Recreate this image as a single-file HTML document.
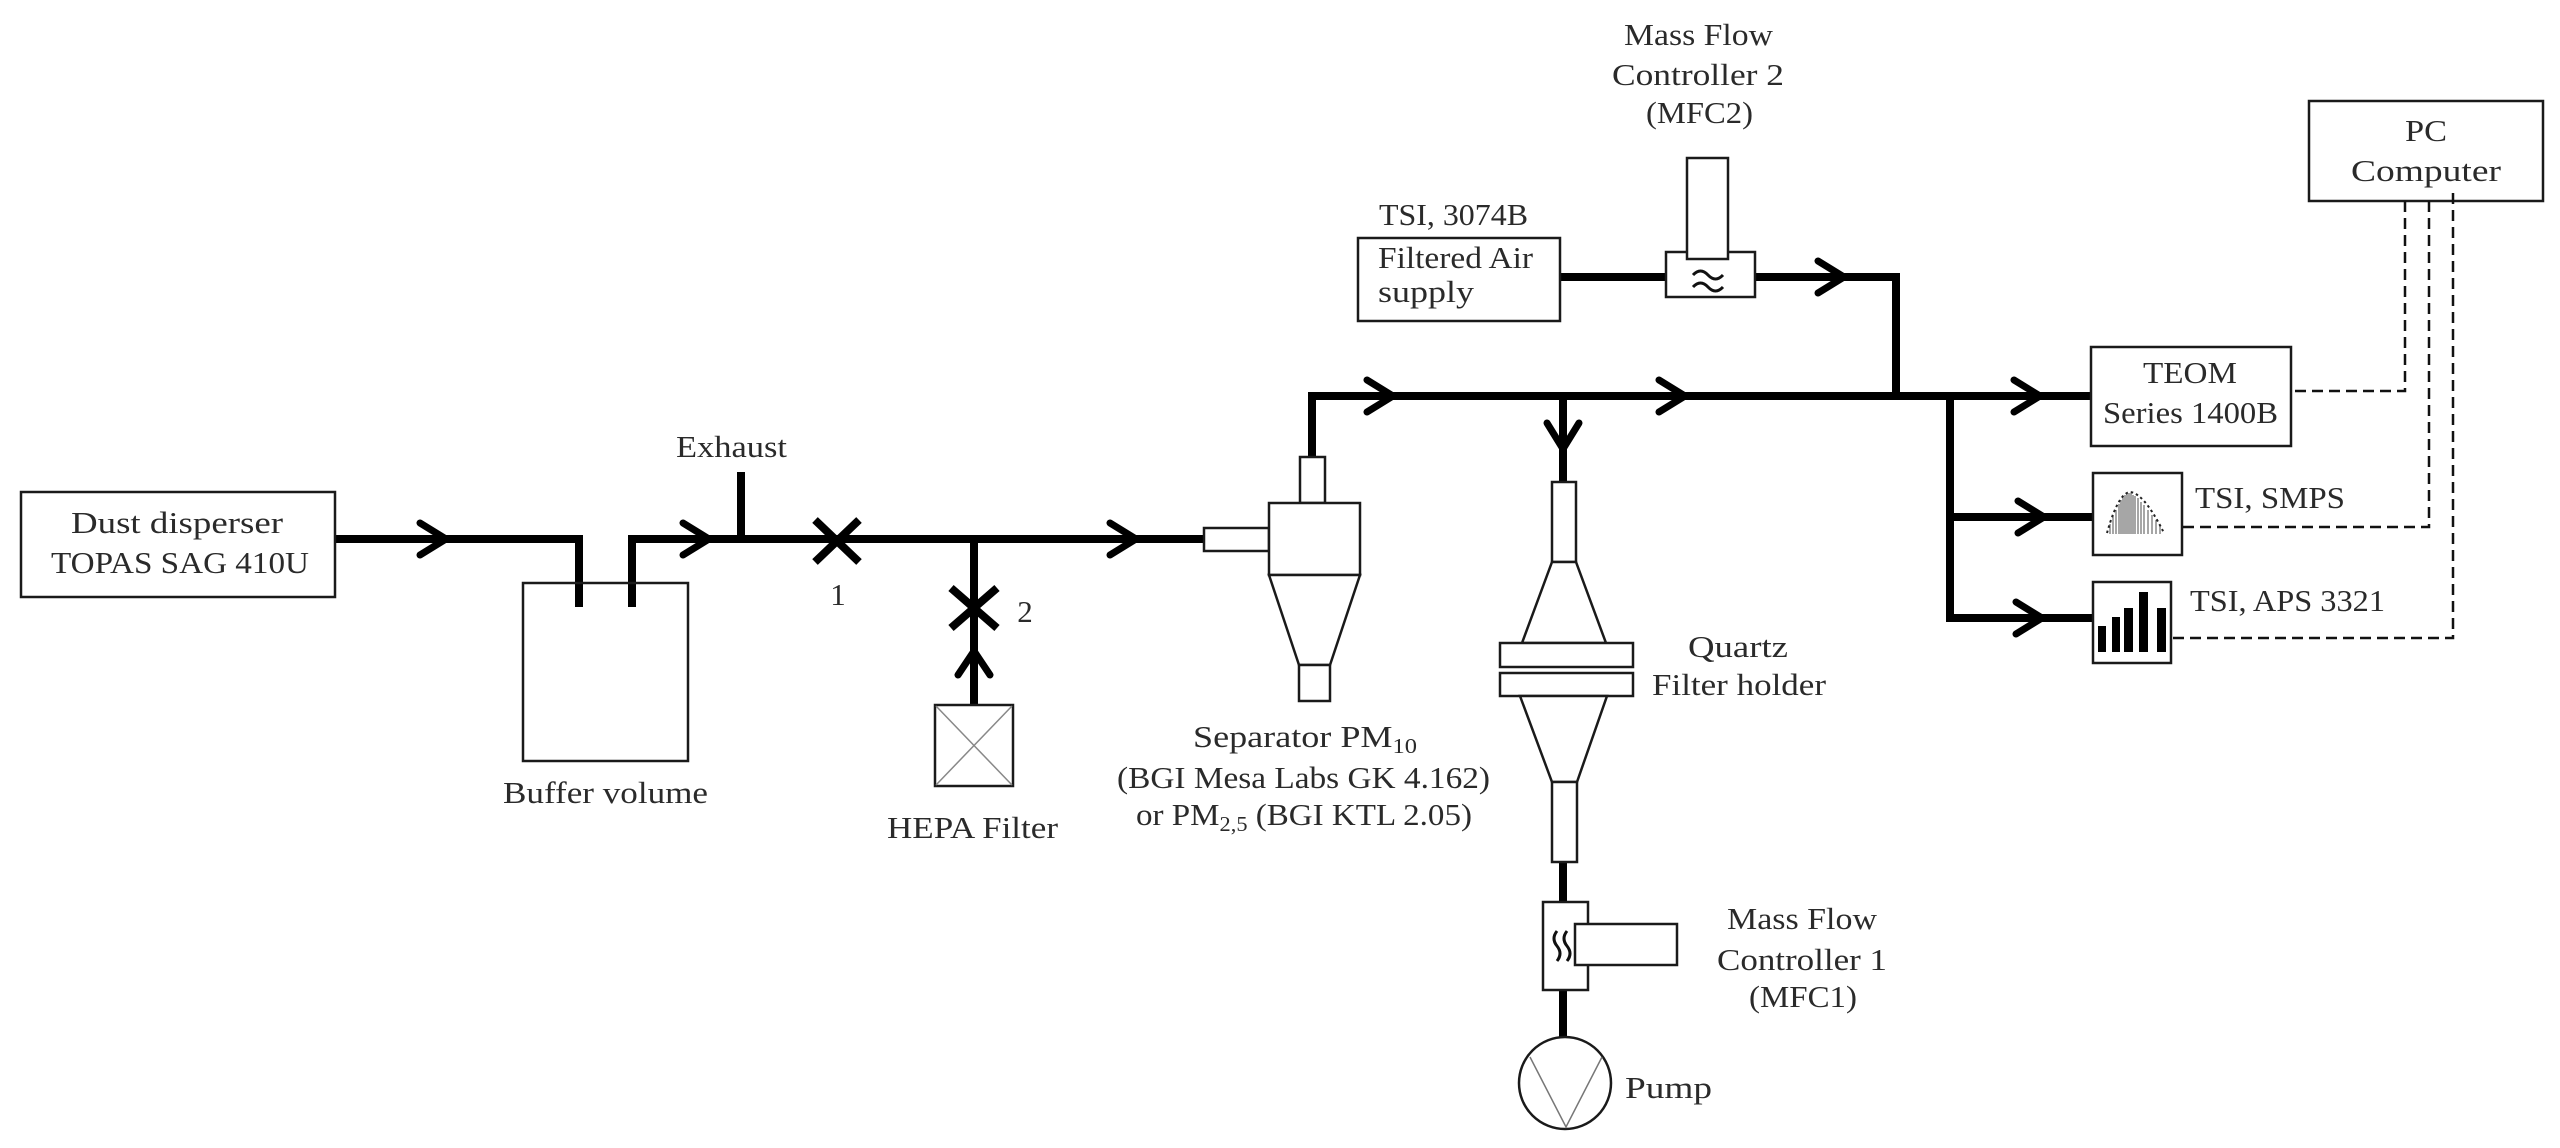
<!DOCTYPE html>
<html>
<head>
<meta charset="utf-8">
<style>
html,body{margin:0;padding:0;background:#fff;}
svg{display:block;}
text{font-family:"Liberation Serif",serif;font-size:31px;fill:#2a2a2a;}
</style>
</head>
<body>
<svg width="2560" height="1148" viewBox="0 0 2560 1148" xmlns="http://www.w3.org/2000/svg">
<rect x="0" y="0" width="2560" height="1148" fill="#fff"/>

<!-- pipes -->
<g fill="none" stroke="#000" stroke-width="8" stroke-linejoin="miter">
  <polyline points="335,539 579,539 579,607"/>
  <polyline points="632,607 632,539 1204,539"/>
  <line x1="741" y1="472" x2="741" y2="539"/>
  <line x1="974" y1="539" x2="974" y2="705"/>
  <polyline points="1312,457 1312,396 2091,396"/>
  <line x1="1563" y1="396" x2="1563" y2="482"/>
  <line x1="1563" y1="862" x2="1563" y2="902"/>
  <line x1="1563" y1="990" x2="1563" y2="1038"/>
  <line x1="1560" y1="277" x2="1666" y2="277"/>
  <polyline points="1755,277 1896,277 1896,396"/>
  <polyline points="1950,396 1950,618 2093,618"/>
  <line x1="1950" y1="517" x2="2093" y2="517"/>
</g>

<!-- arrows -->
<g fill="none" stroke="#000" stroke-width="7" stroke-linecap="round" stroke-linejoin="miter">
  <path d="M420,523 L446,539 L420,555"/>
  <path d="M683,523 L709,539 L683,555"/>
  <path d="M1110,523 L1136,539 L1110,555"/>
  <path d="M1367,380 L1393,396 L1367,412"/>
  <path d="M1659,380 L1685,396 L1659,412"/>
  <path d="M1818,261 L1844,277 L1818,293"/>
  <path d="M2014,380 L2040,396 L2014,412"/>
  <path d="M2018,501 L2044,517 L2018,533"/>
  <path d="M2016,602 L2042,618 L2016,634"/>
  <path d="M1547,423 L1563,449 L1579,423"/>
  <path d="M958,675 L974,651 L990,675"/>
</g>

<!-- valves -->
<g stroke="#000" stroke-width="8" stroke-linecap="butt">
  <line x1="815" y1="520" x2="859" y2="562"/>
  <line x1="815" y1="562" x2="859" y2="520"/>
  <line x1="951" y1="588" x2="997" y2="628"/>
  <line x1="951" y1="628" x2="997" y2="588"/>
</g>

<!-- boxes -->
<g fill="none" stroke="#1a1a1a" stroke-width="2.5">
  <rect x="21" y="492" width="314" height="105"/>
  <rect x="523" y="583" width="165" height="178"/>
  <rect x="935" y="705" width="78" height="81"/>
  <rect x="1358" y="238" width="202" height="83"/>
  <rect x="2309" y="101" width="234" height="100" fill="#fff"/>
  <rect x="2091" y="347" width="200" height="99"/>
  <rect x="2093" y="473" width="89" height="82"/>
  <rect x="2093" y="582" width="78" height="81"/>
</g>

<!-- HEPA diagonals -->
<g stroke="#888" stroke-width="1.5">
  <line x1="936" y1="706" x2="1012" y2="785"/>
  <line x1="1012" y1="706" x2="936" y2="785"/>
</g>

<!-- separator -->
<g fill="#fff" stroke="#1a1a1a" stroke-width="2.5">
  <rect x="1204" y="528" width="65" height="23"/>
  <rect x="1300" y="457" width="25" height="46"/>
  <rect x="1269" y="503" width="91" height="72"/>
  <polygon points="1269,575 1360,575 1330,665 1299,665"/>
  <rect x="1299" y="665" width="31" height="36"/>
</g>

<!-- quartz filter holder -->
<g fill="#fff" stroke="#1a1a1a" stroke-width="2.5">
  <rect x="1552" y="482" width="24" height="80"/>
  <polygon points="1552,562 1576,562 1606,643 1522,643"/>
  <rect x="1500" y="643" width="133" height="24"/>
  <rect x="1500" y="673" width="133" height="23"/>
  <polygon points="1520,696 1607,696 1577,782 1552,782"/>
  <rect x="1552" y="782" width="25" height="80"/>
</g>

<!-- MFC2 -->
<g fill="#fff" stroke="#1a1a1a" stroke-width="2.5">
  <rect x="1666" y="252" width="89" height="45"/>
  <rect x="1687" y="158" width="41" height="101"/>
</g>
<g fill="none" stroke="#111" stroke-width="3">
  <path d="M1693,275 q7.5,-8 15,0 t15,0"/>
  <path d="M1693,287 q7.5,-8 15,0 t15,0"/>
</g>

<!-- MFC1 -->
<g fill="#fff" stroke="#1a1a1a" stroke-width="2.5">
  <rect x="1543" y="902" width="45" height="88"/>
  <rect x="1575" y="924" width="102" height="41"/>
</g>
<g fill="none" stroke="#111" stroke-width="3">
  <path d="M1557,931 q-6,7.5 0,15 t0,15"/>
  <path d="M1567,931 q-6,7.5 0,15 t0,15"/>
</g>

<!-- pump -->
<circle cx="1565" cy="1083" r="46" fill="#fff" stroke="#1a1a1a" stroke-width="2.5"/>
<polyline points="1530,1057 1566,1127 1602,1057" fill="none" stroke="#777" stroke-width="1.5"/>

<!-- SMPS icon -->
<g stroke="#777" stroke-width="1.3">
  <line x1="2110" y1="524" x2="2110" y2="534"/>
  <line x1="2113" y1="516" x2="2113" y2="534"/>
  <line x1="2116" y1="510" x2="2116" y2="534"/>
  <line x1="2119" y1="504" x2="2119" y2="534"/>
  <line x1="2121" y1="500" x2="2121" y2="534"/>
  <line x1="2123" y1="497" x2="2123" y2="534"/>
  <line x1="2125" y1="495" x2="2125" y2="534"/>
  <line x1="2127" y1="494" x2="2127" y2="534"/>
  <line x1="2129" y1="493" x2="2129" y2="534"/>
  <line x1="2131" y1="493" x2="2131" y2="534"/>
  <line x1="2133" y1="495" x2="2133" y2="534"/>
  <line x1="2135" y1="496" x2="2135" y2="534"/>
  <line x1="2138" y1="498" x2="2138" y2="534"/>
  <line x1="2141" y1="502" x2="2141" y2="534"/>
  <line x1="2144" y1="505" x2="2144" y2="534"/>
  <line x1="2148" y1="510" x2="2148" y2="534"/>
  <line x1="2152" y1="515" x2="2152" y2="534"/>
  <line x1="2156" y1="520" x2="2156" y2="534"/>
  <line x1="2160" y1="526" x2="2160" y2="534"/>
</g>
<path d="M2107,533 C2112,515 2120,493 2130,492 C2142,493 2155,515 2164,533" fill="none" stroke="#222" stroke-width="2" stroke-dasharray="2.5 3"/>

<!-- APS bars -->
<g fill="#000">
  <rect x="2098" y="626" width="8" height="26"/>
  <rect x="2112" y="617" width="8" height="35"/>
  <rect x="2124" y="608" width="9" height="44"/>
  <rect x="2139" y="592" width="9" height="60"/>
  <rect x="2157" y="608" width="9" height="44"/>
</g>

<!-- dashed signal lines -->
<g fill="none" stroke="#111" stroke-width="2.5" stroke-dasharray="11 6">
  <polyline points="2405,201 2405,391 2291,391"/>
  <polyline points="2429,201 2429,527 2182,527"/>
  <polyline points="2453,193 2453,638 2171,638"/>
</g>

<!-- labels -->
<text x="71" y="533" textLength="212" lengthAdjust="spacingAndGlyphs">Dust disperser</text>
<text x="51" y="573" textLength="258" lengthAdjust="spacingAndGlyphs">TOPAS SAG 410U</text>
<text x="676" y="457" textLength="111" lengthAdjust="spacingAndGlyphs">Exhaust</text>
<text x="503" y="803" textLength="205" lengthAdjust="spacingAndGlyphs">Buffer volume</text>
<text x="838" y="605" text-anchor="middle">1</text>
<text x="1025" y="622" text-anchor="middle">2</text>
<text x="887" y="838" textLength="171" lengthAdjust="spacingAndGlyphs">HEPA Filter</text>
<text x="1193" y="747" textLength="224" lengthAdjust="spacingAndGlyphs">Separator PM<tspan font-size="21" dy="6">10</tspan></text>
<text x="1117" y="788" textLength="373" lengthAdjust="spacingAndGlyphs">(BGI Mesa Labs GK 4.162)</text>
<text x="1136" y="825" textLength="336" lengthAdjust="spacingAndGlyphs">or PM<tspan font-size="21" dy="6">2,5</tspan><tspan dy="-6"> (BGI KTL 2.05)</tspan></text>
<text x="1624" y="45" textLength="149" lengthAdjust="spacingAndGlyphs">Mass Flow</text>
<text x="1612" y="85" textLength="172" lengthAdjust="spacingAndGlyphs">Controller 2</text>
<text x="1646" y="123" textLength="107" lengthAdjust="spacingAndGlyphs">(MFC2)</text>
<text x="1379" y="225" textLength="149" lengthAdjust="spacingAndGlyphs">TSI, 3074B</text>
<text x="1378" y="268" textLength="155" lengthAdjust="spacingAndGlyphs">Filtered Air</text>
<text x="1378" y="302" textLength="96" lengthAdjust="spacingAndGlyphs">supply</text>
<text x="2405" y="141" textLength="42" lengthAdjust="spacingAndGlyphs">PC</text>
<text x="2351" y="181" textLength="150" lengthAdjust="spacingAndGlyphs">Computer</text>
<text x="2143" y="383" textLength="94" lengthAdjust="spacingAndGlyphs">TEOM</text>
<text x="2103" y="423" textLength="175" lengthAdjust="spacingAndGlyphs">Series 1400B</text>
<text x="2195" y="508" textLength="150" lengthAdjust="spacingAndGlyphs">TSI, SMPS</text>
<text x="2190" y="611" textLength="195" lengthAdjust="spacingAndGlyphs">TSI, APS 3321</text>
<text x="1688" y="657" textLength="100" lengthAdjust="spacingAndGlyphs">Quartz</text>
<text x="1652" y="695" textLength="174" lengthAdjust="spacingAndGlyphs">Filter holder</text>
<text x="1727" y="929" textLength="150" lengthAdjust="spacingAndGlyphs">Mass Flow</text>
<text x="1717" y="970" textLength="170" lengthAdjust="spacingAndGlyphs">Controller 1</text>
<text x="1749" y="1007" textLength="108" lengthAdjust="spacingAndGlyphs">(MFC1)</text>
<text x="1625" y="1098" textLength="87" lengthAdjust="spacingAndGlyphs">Pump</text>
</svg>
</body>
</html>
